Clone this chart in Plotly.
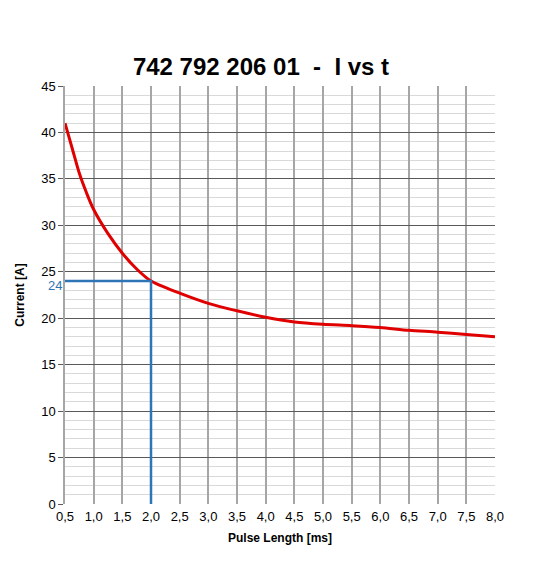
import plotly.graph_objects as go

# Data
pulse_ms = [0.5, 0.625, 0.75, 0.875, 1.0, 1.25, 1.5, 1.75, 2.0, 2.5, 3.0, 3.5, 4.0, 4.5, 5.0, 5.5, 6.0, 6.5, 7.0, 7.5, 8.0]
current_a = [41.0, 38.3, 35.6, 33.5, 31.7, 29.1, 27.0, 25.3, 24.0, 22.7, 21.6, 20.8, 20.1, 19.6, 19.35, 19.2, 19.0, 18.7, 18.5, 18.25, 18.0]

marker_t = 2.0
marker_i = 24

x_ticks = [0.5, 1.0, 1.5, 2.0, 2.5, 3.0, 3.5, 4.0, 4.5, 5.0, 5.5, 6.0, 6.5, 7.0, 7.5, 8.0]
y_ticks = [0, 5, 10, 15, 20, 25, 30, 35, 40, 45]

FONT = "Liberation Sans, Arial, sans-serif"
BLUE = "#2E75B6"
OFF = 8  # page body offset

fig = go.Figure()

fig.add_trace(go.Scatter(
    x=pulse_ms, y=current_a, mode="lines",
    line=dict(color="#E00000", width=3, shape="spline", smoothing=0.8),
    hoverinfo="skip", showlegend=False,
))

fig.add_trace(go.Scatter(
    x=[x_ticks[0], marker_t, marker_t], y=[marker_i, marker_i, y_ticks[0]],
    mode="lines", line=dict(color=BLUE, width=2.5),
    hoverinfo="skip", showlegend=False,
))

fig.add_annotation(
    x=0, xref="paper", y=marker_i, yref="y",
    text=str(marker_i), showarrow=False,
    xanchor="right", yanchor="middle", xshift=-1, yshift=-4,
    font=dict(family=FONT, size=13, color=BLUE),
)

fig.update_layout(
    width=540, height=574,
    margin=dict(l=65 - OFF, r=45 + OFF, t=86 - OFF, b=70 + OFF),
    paper_bgcolor="white", plot_bgcolor="white",
    separators=", ",
    font=dict(family=FONT, size=13, color="black"),
    title=dict(
        text="<b>742 792 206 01&nbsp;&nbsp;-&nbsp;&nbsp;I vs t</b>",
        x=(261 - OFF)/540, xref="container", xanchor="center",
        y=1 - (67 - OFF)/574, yref="container", yanchor="middle",
        font=dict(family=FONT, size=24, color="black"),
    ),
    xaxis=dict(
        range=[0.5, 8.0], tickvals=x_ticks, tickformat=".1f",
        showgrid=True, gridcolor="#A6A6A6", gridwidth=1.5,
        zeroline=False, showline=False, ticks="",
        ticklabelstandoff=3,
        title=dict(text="<b>Pulse Length [ms]</b>", font=dict(family=FONT, size=12), standoff=10),
        tickfont=dict(family=FONT, size=13),
    ),
    yaxis=dict(
        range=[0, 45], tickvals=y_ticks,
        showgrid=True, gridcolor="#595959", gridwidth=1.2,
        minor=dict(dtick=1, showgrid=True, gridcolor="#D9D9D9", gridwidth=1),
        zeroline=False, showline=True, linecolor="#A6A6A6", linewidth=1.5,
        ticks="outside", ticklen=5, tickcolor="#595959",
        title=dict(text="<b>Current [A]</b>", font=dict(family=FONT, size=12), standoff=14),
        tickfont=dict(family=FONT, size=13),
    ),
)

fig.write_html("out.html")
